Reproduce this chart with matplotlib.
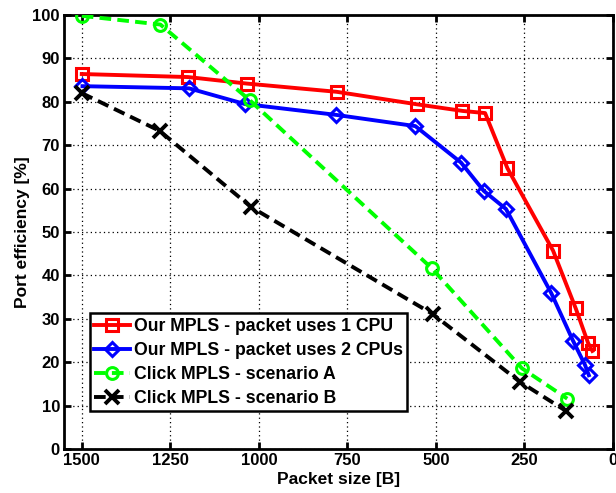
import matplotlib
matplotlib.use("Agg")
import matplotlib.pyplot as plt

plt.rcParams['font.family'] = ['Liberation Sans', 'DejaVu Sans']
plt.rcParams['font.weight'] = 'bold'

# Packet sizes [B] and port efficiency [%]
size_1cpu = [1500, 1200, 1034, 780, 552, 425, 361, 298, 169, 105, 70, 58]
eff_1cpu = [86.4, 85.7, 84.2, 82.3, 79.4, 77.9, 77.4, 64.7, 45.7, 32.4, 24.4, 22.6]

size_2cpu = [1498, 1197, 1040, 783, 558, 429, 365, 302, 174, 113, 79, 68]
eff_2cpu = [83.6, 83.1, 79.5, 77.0, 74.4, 66.0, 59.5, 55.3, 35.9, 25.0, 19.4, 17.0]

size_click_a = [1500, 1278, 1026, 511, 257, 129]
eff_click_a = [99.8, 97.8, 80.4, 41.6, 18.6, 11.6]

size_click_b = [1500, 1280, 1021, 509, 263, 133]
eff_click_b = [82.0, 73.3, 55.7, 31.1, 15.5, 8.8]

labels = [
    "Our MPLS - packet uses 1 CPU",
    "Our MPLS - packet uses 2 CPUs",
    "Click MPLS - scenario A",
    "Click MPLS - scenario B",
]

x_ticks = [1500, 1250, 1000, 750, 500, 250, 0]
y_ticks = [0, 10, 20, 30, 40, 50, 60, 70, 80, 90, 100]

fig = plt.figure(figsize=(6.16, 4.93), dpi=100)
ax = fig.add_axes([0.104, 0.0892, 0.891, 0.8804])

lw = 2.8
ms = 8.5
mew = 2.2
ax.plot(size_1cpu, eff_1cpu, color='#ff0000', lw=lw, marker='s', ms=ms,
        mfc='none', mew=mew, label=labels[0], zorder=3)
ax.plot(size_2cpu, eff_2cpu, color='#0000ff', lw=lw, marker='D', ms=ms * 0.85,
        mfc='none', mew=mew, label=labels[1], zorder=3)
ax.plot(size_click_a, eff_click_a, color='#00ff00', lw=lw, ls=(0, (3, 1.6)),
        marker='o', ms=ms, mfc='none', mew=mew, label=labels[2], zorder=3)
ax.plot(size_click_b, eff_click_b, color='black', lw=lw, ls=(0, (3, 1.6)),
        marker='x', ms=ms * 1.15, mew=mew + 0.6, label=labels[3], zorder=3)

ax.set_xlim(1550, 0)
ax.set_ylim(0, 100)
ax.set_xticks(x_ticks)
ax.set_yticks(y_ticks)
ax.grid(True, color='black', ls=(0, (1, 2.5)), lw=0.9)
ax.tick_params(direction='in', length=5, width=2, top=True, right=True,
               labelsize=12, pad=3)
for t in ax.get_xticklabels() + ax.get_yticklabels():
    t.set_fontweight('bold')
for s in ax.spines.values():
    s.set_linewidth(2)

ax.set_xlabel("Packet size [B]", fontsize=12.5, fontweight='bold', labelpad=3)
ax.set_ylabel("Port efficiency [%]", fontsize=12.5, fontweight='bold', labelpad=2)

leg = ax.legend(loc='lower left', bbox_to_anchor=(0.047, 0.087),
                fontsize=12.7, handlelength=2.0, handletextpad=0.25,
                borderpad=0.25, labelspacing=0.4, borderaxespad=0,
                fancybox=False, framealpha=1, edgecolor='black')
leg.get_frame().set_linewidth(1.8)
for t in leg.get_texts():
    t.set_fontweight('bold')

fig.savefig("out.png", dpi=100)
